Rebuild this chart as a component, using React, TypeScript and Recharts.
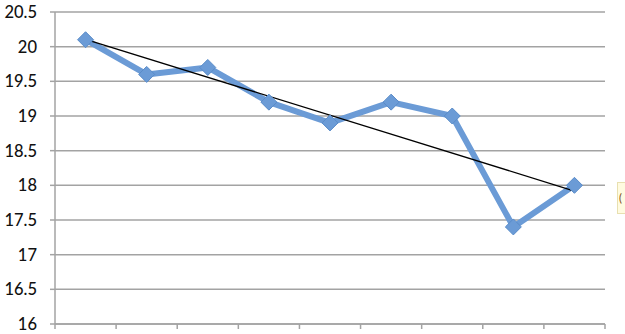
import React from "react";
import { ComposedChart, Line, XAxis, YAxis, CartesianGrid } from "recharts";

const values = [20.1, 19.6, 19.7, 19.2, 18.9, 19.2, 19.0, 17.4, 18.0];
const yTicks = [16, 16.5, 17, 17.5, 18, 18.5, 19, 19.5, 20, 20.5];

const BLUE = "#6b9bd6";
const GRID = "#a3a3a3";

// linear trendline (least squares) over the series
function trend(ys: number[]) {
  const n = ys.length;
  const mx = (n - 1) / 2;
  const my = ys.reduce((a, b) => a + b, 0) / n;
  let sxy = 0, sxx = 0;
  ys.forEach((y, i) => { sxy += (i - mx) * (y - my); sxx += (i - mx) ** 2; });
  const k = sxy / sxx;
  return (i: number) => my + k * (i - mx);
}

const t = trend(values);
const data = values.map((v, i) => ({
  x: i + 0.5,
  v,
  tr: i === 0 || i === values.length - 1 ? t(i) : null,
}));

function Diamond(props: any) {
  const { cx, cy } = props;
  if (cx == null || cy == null) return null;
  const r = 8;
  return (
    <polygon
      points={`${cx},${cy - r} ${cx + r},${cy} ${cx},${cy + r} ${cx - r},${cy}`}
      fill={BLUE}
      stroke="#5a8cc9"
      strokeWidth={1}
    />
  );
}

export default function App() {
  return (
    <div style={{ position: "fixed", left: 0, top: 0, width: 625, height: 334, background: "#fff", overflow: "hidden" }}>
      <ComposedChart
        width={625}
        height={334}
        data={data}
        margin={{ top: 12, right: 20, bottom: 0, left: 0 }}
        style={{ fontFamily: "Lato, sans-serif" }}
      >
        <CartesianGrid vertical={false} stroke={GRID} strokeWidth={1.5} />
        <XAxis
          type="number"
          dataKey="x"
          domain={[0, 9]}
          ticks={[0, 1, 2, 3, 4, 5, 6, 7, 8, 9]}
          tickFormatter={() => ""}
          height={10}
          stroke={GRID}
          strokeWidth={1.5}
          tickSize={5}
        />
        <YAxis
          domain={[16, 20.5]}
          ticks={yTicks}
          width={55}
          stroke={GRID}
          strokeWidth={1.5}
          tickSize={5}
          tickMargin={13}
          tick={{ fill: "#111", fontSize: 16.5, fontWeight: 500 }}
          interval={0}
        />
        <Line
          dataKey="v"
          stroke={BLUE}
          strokeWidth={6}
          strokeLinejoin="round"
          dot={<Diamond />}
          activeDot={false}
          isAnimationActive={false}
        />
        <Line
          dataKey="tr"
          stroke="#000"
          strokeWidth={1.3}
          dot={false}
          activeDot={false}
          connectNulls
          isAnimationActive={false}
        />
      </ComposedChart>
      <div
        style={{
          position: "absolute", left: 617, top: 182, width: 8, height: 32,
          background: "#fffbe0", border: "1px solid #e8e0b0", borderRight: "none", boxSizing: "border-box",
          fontFamily: "Lato, sans-serif", fontSize: 11, lineHeight: "30px", paddingLeft: 1, color: "#7a4a10",
          overflow: "hidden", whiteSpace: "nowrap",
        }}
      >
        (
      </div>
    </div>
  );
}
